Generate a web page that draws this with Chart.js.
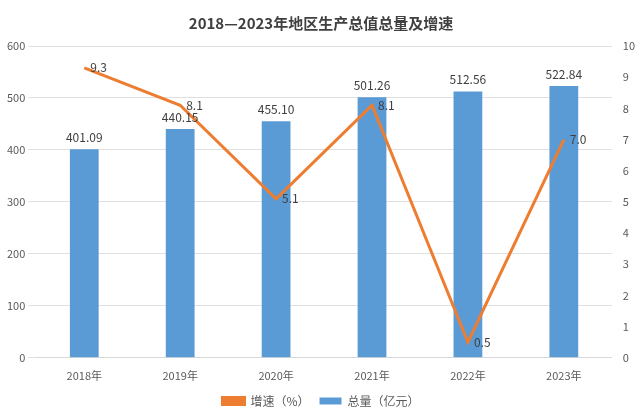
<!DOCTYPE html>
<html>
<head>
<meta charset="utf-8">
<script src="https://cdn.jsdelivr.net/npm/chart.js@4"></script>
<style>
  body { margin: 0; background: #fff; }
  #wrap { width: 644px; height: 419px; }
</style>
</head>
<body>
<div id="wrap"><canvas id="c"></canvas></div>
<script>
const years = ['2018年', '2019年', '2020年', '2021年', '2022年', '2023年'];
const totals = [401.09, 440.15, 455.10, 501.26, 512.56, 522.84];
const growth = [9.3, 8.1, 5.1, 8.1, 0.5, 7.0];

const FONT = '"Microsoft YaHei", "Noto Sans CJK SC", sans-serif';

// value labels: above bars, right of line points
const labelPlugin = {
  id: 'labels',
  afterDatasetsDraw(chart) {
    const ctx = chart.ctx;
    ctx.save();
    ctx.font = '12px ' + FONT;
    ctx.fillStyle = '#404040';
    chart.getDatasetMeta(0).data.forEach((bar, i) => {
      ctx.textAlign = 'center';
      ctx.textBaseline = 'bottom';
      ctx.fillText(totals[i].toFixed(2), bar.x, bar.y - 6);
    });
    chart.getDatasetMeta(1).data.forEach((pt, i) => {
      ctx.textAlign = 'left';
      ctx.textBaseline = 'middle';
      ctx.fillText(growth[i].toFixed(1), pt.x + 6, pt.y);
    });
    ctx.restore();
  }
};

new Chart(document.getElementById('c'), {
  data: {
    labels: years,
    datasets: [
      {
        type: 'bar',
        label: '总量（亿元）',
        data: totals,
        backgroundColor: '#5B9BD5',
        yAxisID: 'y',
        barPercentage: 0.3,
        categoryPercentage: 1,
        order: 2
      },
      {
        type: 'line',
        label: '增速（%）',
        data: growth,
        borderColor: '#ED7D31',
        backgroundColor: '#ED7D31',
        borderWidth: 3,
        pointRadius: 0,
        tension: 0,
        yAxisID: 'y1',
        order: 1
      }
    ]
  },
  options: {
    responsive: true,
    maintainAspectRatio: false,
    animation: false,
    layout: { padding: { left: 4, right: 6, top: 4, bottom: 2 } },
    plugins: {
      title: {
        display: true,
        text: '2018—2023年地区生产总值总量及增速',
        color: '#404040',
        font: { family: FONT, size: 15, weight: 'bold' },
        padding: { top: 10, bottom: 14 }
      },
      legend: {
        position: 'bottom',
        labels: {
          color: '#595959',
          font: { family: FONT, size: 12 },
          boxWidth: 22,
          boxHeight: 7
        }
      },
      tooltip: { enabled: false }
    },
    scales: {
      x: {
        grid: { display: false },
        border: { color: '#d9d9d9' },
        ticks: { color: '#595959', font: { family: FONT, size: 11 } }
      },
      y: {
        position: 'left',
        min: 0, max: 600,
        ticks: { stepSize: 100, color: '#595959', font: { family: FONT, size: 11 } },
        grid: { color: '#e0e0e0' },
        border: { display: false }
      },
      y1: {
        position: 'right',
        min: 0, max: 10,
        ticks: { stepSize: 1, color: '#595959', font: { family: FONT, size: 11 } },
        grid: { display: false },
        border: { display: false }
      }
    }
  },
  plugins: [labelPlugin]
});
</script>
</body>
</html>
